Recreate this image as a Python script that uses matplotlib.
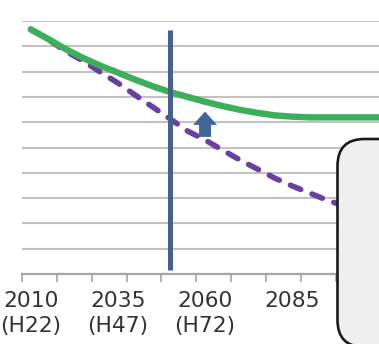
import matplotlib
matplotlib.use("Agg")
import matplotlib.pyplot as plt
from matplotlib.patches import FancyBboxPatch

# ---- data (arbitrary units; grid step = 1) ----
years = [2010, 2015, 2020, 2025, 2030, 2035, 2040, 2045, 2050, 2055, 2060,
         2065, 2070, 2075, 2080, 2085, 2090, 2095, 2100, 2105, 2110]
vision = [9.67, 9.29, 8.89, 8.54, 8.23, 7.96, 7.68, 7.42, 7.19, 7.00, 6.81,
          6.64, 6.49, 6.37, 6.27, 6.22, 6.19, 6.19, 6.19, 6.19, 6.19]
projection = [9.67, 9.27, 8.81, 8.42, 7.98, 7.55, 7.07, 6.60, 6.13, 5.65, 5.30,
              4.90, 4.51, 4.15, 3.79, 3.48, 3.20, 2.92, 2.69, 2.45, 2.22]
label_years = [2010, 2035, 2060, 2085]
label_texts = ["2010\n(H22)", "2035\n(H47)", "2060\n(H72)", "2085"]
marker_year = 2050
marker_span = (0.17, 9.64)
arrow_year = 2060
arrow_span = (5.42, 6.42)

W, H = 379, 344
fig = plt.figure(figsize=(W / 100, H / 100), dpi=100)
ax = fig.add_axes([22 / W, 70 / H, (W - 22) / W, 253 / H])

px_per_year = 3.486
x0 = 2007.5
ax.set_xlim(x0, x0 + (W - 22) / px_per_year)
ax.set_ylim(0, 10)

# grid
ax.set_yticks(range(0, 11))
ax.yaxis.grid(True, color="#C2C2C2", linewidth=1.5)
ax.set_axisbelow(True)
ax.tick_params(axis="y", left=False, labelleft=False)

for s in ["left", "right", "top"]:
    ax.spines[s].set_visible(False)
ax.spines["bottom"].set_color("#A6A6A6")
ax.spines["bottom"].set_linewidth(1.6)

major = [x0 + 10 * i for i in range(11)]
ax.set_xticks(major)
ax.set_xticklabels([])
ax.tick_params(axis="x", which="major", length=5.8, width=1.2, color="#A6A6A6",
               direction="out")
ax.set_xticks(label_years, minor=True)
ax.set_xticklabels(label_texts, minor=True, fontsize=15.7, color="#333333",
                   linespacing=1.32, va="top")
ax.tick_params(axis="x", which="minor", length=0, pad=12)

# lines
ax.plot(years, projection, color="#6B3FA0", lw=4.0, dashes=(2.0, 2.2),
        dash_capstyle="round", zorder=3, clip_on=False)
ax.plot(years, vision, color="#3BAF5A", lw=4.6, solid_capstyle="round",
        solid_joinstyle="round", zorder=4, clip_on=False)
ax.vlines(marker_year, marker_span[0], marker_span[1], color="#44618F",
          lw=3.6, zorder=5)
ax.annotate("", xy=(arrow_year, arrow_span[1]), xytext=(arrow_year, arrow_span[0]),
            arrowprops=dict(arrowstyle="simple,head_length=0.96,head_width=1.73,tail_width=0.86",
                            mutation_scale=10, shrinkA=0, shrinkB=0,
                            color="#41679A", lw=0),
            zorder=6)

# callout box (cut off at the edge)
bx, by_top = 337.5, 139
box = FancyBboxPatch((bx / W, -3 / H), (W + 60 - bx) / W, (H - by_top + 3) / H,
                     boxstyle="round,pad=0,rounding_size=%f" % (27 / W),
                     mutation_aspect=W / H,
                     transform=fig.transFigure, facecolor="#EFEFEF",
                     edgecolor="#1A1A1A", linewidth=1.9, zorder=10, clip_on=False)
fig.patches.append(box)

fig.savefig("out.png", dpi=100)
